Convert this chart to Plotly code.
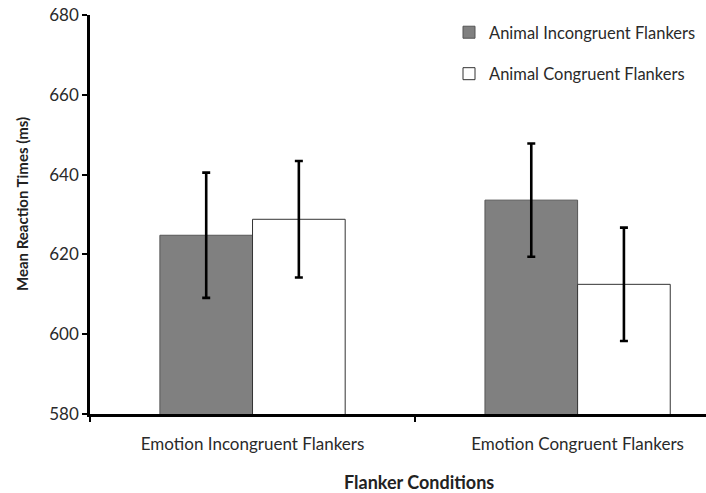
import plotly.graph_objects as go

categories = ["Emotion Incongruent Flankers", "Emotion Congruent Flankers"]
series_names = ["Animal Incongruent Flankers", "Animal Congruent Flankers"]
incongruent_vals = [624.8, 633.6]
incongruent_err = [15.7, 14.2]
congruent_vals = [628.8, 612.5]
congruent_err = [14.6, 14.2]
y_ticks = [580, 600, 620, 640, 660, 680]

FONT = "Lato, 'Open Sans', sans-serif"

fig = go.Figure()
fig.add_trace(go.Bar(
    x=categories, y=incongruent_vals, name=series_names[0],
    marker=dict(color="#808080", line=dict(color="#555555", width=1)),
    error_y=dict(type="data", array=incongruent_err, color="black", thickness=2.6, width=4),
    legendgroup="a",
))
fig.add_trace(go.Bar(
    x=categories, y=congruent_vals, name=series_names[1],
    marker=dict(color="white", line=dict(color="#333333", width=1)),
    error_y=dict(type="data", array=congruent_err, color="black", thickness=2.6, width=4),
    legendgroup="b",
))

PL, PT, PB = 90, 15, 79
W, H = 706, 493
PW, PH = W - PL, H - PT - PB

fig.update_layout(
    width=W, height=H,
    margin=dict(l=PL, r=0, t=PT, b=PB, pad=0, autoexpand=False),
    paper_bgcolor="white", plot_bgcolor="white",
    barmode="group", bargap=0.43, bargroupgap=0,
    font=dict(family=FONT, size=17, color="#2a2a2a"),
    showlegend=True,
    legend=dict(x=(449 - PL) / PW, y=1.0, xanchor="left", yanchor="top",
                font=dict(size=16.5, color="#2a2a2a"),
                traceorder="grouped", tracegroupgap=17,
                bgcolor="rgba(0,0,0,0)", itemwidth=30),
    xaxis=dict(type="category", range=[-0.5, 1.395], showline=True, linecolor="black",
               linewidth=2.5, ticks="outside", tickson="boundaries", ticklen=5,
               tickwidth=2, tickcolor="black", showgrid=False, zeroline=False,
               ticklabelstandoff=13, tickfont=dict(size=17), automargin=False),
    yaxis=dict(range=[580, 680], tickvals=y_ticks, showline=True, linecolor="black",
               linewidth=2.5, ticks="outside", ticklen=5, tickwidth=2, tickcolor="black",
               showgrid=False, zeroline=False, tickfont=dict(size=17),
               ticklabeloverflow="allow", automargin=False),
    annotations=[
        dict(text="<b>Flanker Conditions</b>", xref="paper", yref="paper",
             x=(419 - PL) / PW, y=-(482 - (PT + PH)) / PH, xanchor="center", yanchor="middle",
             showarrow=False, font=dict(size=18, color="#222222")),
        dict(text="<b>Mean Reaction Times (ms)</b>", xref="paper", yref="paper",
             x=(22 - PL) / PW, y=((PT + PH) - 204) / PH, xanchor="center", yanchor="middle",
             textangle=-90, showarrow=False, font=dict(size=15, color="#222222")),
    ],
)

fig.write_html(
    "out.html",
    config={"displayModeBar": False},
    post_script="document.body.style.margin='0';document.body.style.padding='0';",
)
